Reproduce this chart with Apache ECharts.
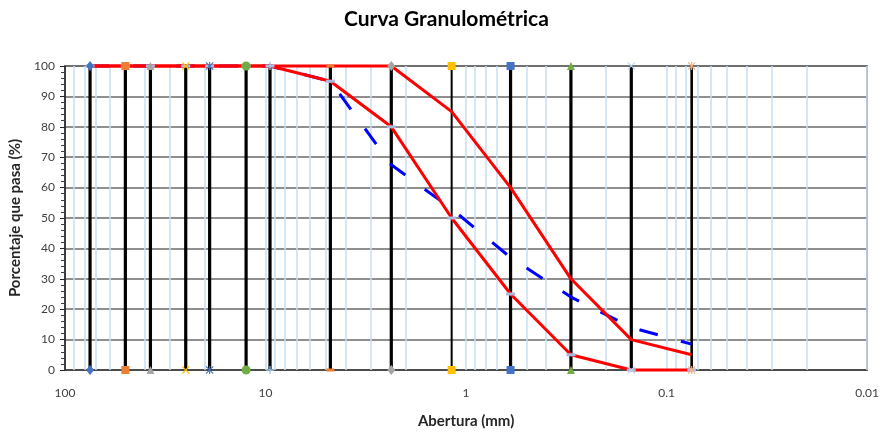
<!DOCTYPE html>
<html>
<head>
<meta charset="utf-8">
<script src="https://cdn.jsdelivr.net/npm/echarts@6/dist/echarts.min.js"></script>
<style>
  html, body { margin: 0; padding: 0; background: #fff; }
  #chart { width: 882px; height: 434px; }
</style>
</head>
<body>
<div id="chart"></div>
<script>
// Sieve openings (mm) and percent passing
const sieveSizes = [75, 50, 37.5, 25, 19, 12.5, 9.5, 4.75, 2.36, 1.18, 0.6, 0.3, 0.15, 0.075];
const upperLimit = [100, 100, 100, 100, 100, 100, 100, 100, 100, 85, 60, 30, 10, 5];
const lowerLimit = [100, 100, 100, 100, 100, 100, 100, 95, 80, 50, 25, 5, 0, 0];
const samplePassing = [100, 100, 100, 100, 100, 100, 100, 95, 67.5, 53, 37, 24, 14, 8.5];
const percentRange = [0, 100];
const xTickLabels = [100, 10, 1, 0.1, 0.01];

// Marker shapes and colours for each sieve's vertical line
const P_X = 'path://M0,1 L1,0 L5,4 L9,0 L10,1 L6,5 L10,9 L9,10 L5,6 L1,10 L0,9 L4,5 Z';
const P_PLUS = 'path://M4.2,0 H5.8 V4.2 H10 V5.8 H5.8 V10 H4.2 V5.8 H0 V4.2 H4.2 Z';
const P_STAR = 'path://M0,1 L1,0 L5,4 L9,0 L10,1 L6,5 L10,9 L9,10 L5,6 L1,10 L0,9 L4,5 Z M4.3,0 H5.7 V10 H4.3 Z';
const P_DASH = 'path://M0,0 H10 V3 H0 Z';
const sieveSymbols = ['diamond', 'rect', 'triangle', P_X, P_STAR, 'circle', P_PLUS, P_DASH, 'diamond', 'rect', 'rect', 'triangle', P_X, P_STAR];
const sieveColors = ['#4472C4', '#ED7D31', '#A5A5A5', '#FFC000', '#4472C4', '#70AD47', '#9DC3E6', '#ED7D31', '#A5A5A5', '#FFC000', '#4472C4', '#70AD47', '#BDD7EE', '#F4B183'];
const sieveLineWidths = [3.2, 3.2, 3.2, 3.2, 3.2, 3.2, 3.2, 3.2, 3.2, 2, 3.2, 3.2, 3.2, 2.6];

const FONT = 'Lato, "Open Sans", sans-serif';

// Light blue log gridlines at 1..9 of every decade
const minorGrid = [];
[0.01, 0.1, 1, 10].forEach(dec => {
  for (let k = 1; k <= 9; k++) minorGrid.push(+(dec * k).toPrecision(3));
});

function symbolSizeOf(sym) {
  if (sym === P_DASH) return [8, 3];
  if (sym === 'diamond') return [8, 10];
  if (sym === 'circle') return 9;
  return 8;
}

const series = [];

// gridlines layer (kept beneath everything else)
series.push({
  type: 'line', data: [], z: 1, silent: true,
  markLine: {
    z: 1, silent: true, symbol: 'none', animation: false,
    label: { show: false },
    lineStyle: { color: '#C7DEF5', width: 1.5, type: 'solid' },
    data: minorGrid.map(v => ({ xAxis: v }))
  }
});

// sieve vertical lines
sieveSizes.forEach((d, i) => {
  series.push({
    type: 'line', z: 2, silent: true, showSymbol: false, clip: false,
    data: percentRange.map(p => [d, p]),
    lineStyle: { color: '#000', width: sieveLineWidths[i] }
  });
});

// sample curve
series.push({
  name: 'Muestra', type: 'line', z: 3, showSymbol: false, clip: false,
  data: sieveSizes.map((d, i) => [d, samplePassing[i]]),
  lineStyle: { color: '#0000FF', width: 3, type: [19, 24] }
});
// specification limits
series.push({
  name: 'Límite superior', type: 'line', z: 4, showSymbol: false, clip: false,
  data: sieveSizes.map((d, i) => [d, upperLimit[i]]),
  lineStyle: { color: '#FF0000', width: 3 }
});
series.push({
  name: 'Límite inferior', type: 'line', z: 4, clip: false,
  data: sieveSizes.map((d, i) => [d, lowerLimit[i]]),
  lineStyle: { color: '#FF0000', width: 3 },
  symbol: P_DASH, symbolSize: [9, 3],
  itemStyle: { color: '#AAB8DE' }
});

// sieve markers at both ends of each vertical line
sieveSizes.forEach((d, i) => {
  series.push({
    type: 'scatter', z: 5, silent: true, clip: false,
    data: percentRange.map(p => [d, p]),
    symbol: sieveSymbols[i],
    symbolSize: symbolSizeOf(sieveSymbols[i]),
    itemStyle: { color: sieveColors[i], opacity: 1 }
  });
});

const chart = echarts.init(document.getElementById('chart'), null, { renderer: 'canvas' });
chart.setOption({
  animation: false,
  backgroundColor: '#fff',
  title: {
    text: 'Curva Granulométrica', left: 339, top: 4,
    textStyle: { fontFamily: FONT, fontSize: 21, fontWeight: 'bold', color: '#000' }
  },
  grid: { left: 64, right: 14, top: 66, bottom: 64, show: true, borderColor: '#595959', borderWidth: 1.5 },
  xAxis: {
    type: 'log', logBase: 10, min: 0.01, max: 100, interval: 1, inverse: true,
    axisLine: { lineStyle: { color: '#404040', width: 1.5 } },
    axisTick: { show: false },
    splitLine: { show: false },
    axisLabel: {
      margin: 17, fontSize: 12, color: '#404040', fontFamily: FONT,
      formatter: v => {
        const r = +(+v).toPrecision(3);
        return xTickLabels.indexOf(r) >= 0 ? String(r) : '';
      }
    },
    name: 'Abertura (mm)', nameLocation: 'middle', nameGap: 44,
    nameTextStyle: { fontFamily: FONT, fontSize: 15, fontWeight: 'bold', color: '#262626' }
  },
  yAxis: {
    type: 'value', min: 0, max: 100, interval: 10,
    axisLine: { show: true, lineStyle: { color: '#262626', width: 1.5 } },
    axisTick: { show: true, length: 5, lineStyle: { color: '#262626' } },
    minorTick: { show: true, splitNumber: 5, length: 4, lineStyle: { color: '#404040' } },
    splitLine: { show: true, lineStyle: { color: '#6A6A6A', width: 1.5 } },
    axisLabel: { margin: 10, fontSize: 12, color: '#404040', fontFamily: FONT },
    name: 'Porcentaje que pasa (%)', nameLocation: 'middle', nameGap: 42,
    nameTextStyle: { fontFamily: FONT, fontSize: 15, fontWeight: 'bold', color: '#262626' }
  },
  series: series
});
</script>
</body>
</html>
